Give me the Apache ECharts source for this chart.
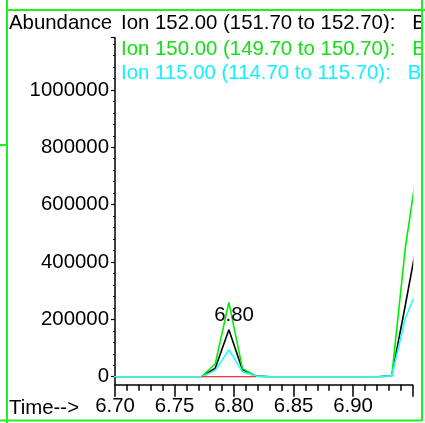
<!DOCTYPE html>
<html>
<head>
<meta charset="utf-8">
<script src="https://cdn.jsdelivr.net/npm/echarts@6/dist/echarts.min.js"></script>
<style>
  html, body { margin: 0; padding: 0; background: #fff; }
  #chart { width: 425px; height: 423px; }
</style>
</head>
<body>
<div id="chart"></div>
<script>
// scan times (min)
var times = [6.6930, 6.7044, 6.7158, 6.7273, 6.7387, 6.7501, 6.7615, 6.7729, 6.7843, 6.7957, 6.8071, 6.8185,
  6.8299, 6.8414, 6.8528, 6.8642, 6.8756, 6.8870, 6.8984, 6.9098, 6.9212, 6.9326, 6.9440, 6.9554]
// abundance per ion
var ion152 = [0, 0, 0, 0, 0, 0, 0, 0, 30000, 164000, 24000, 2000, 0, 0, 0, 0, 0, 0, 0, 0, 0, 3000, 250000, 505000]
var ion150 = [0, 0, 0, 0, 0, 0, 0, 0, 45000, 259000, 28000, 2000, 0, 0, 0, 0, 0, 0, 0, 0, 0, 3000, 450000, 770000]
var ion115 = [0, 0, 0, 0, 0, 0, 0, 0, 22000, 94000, 17000, 2000, 0, 0, 0, 0, 0, 0, 0, 0, 0, 3000, 204000, 318000]
// integration baseline of the 6.80 peak
var baseTimes = [6.7729, 6.8185]
var baseVals = [0, 0]
var ionLabels = [
  'Ion 152.00 (151.70 to 152.70):   B',
  'Ion 150.00 (149.70 to 150.70):   B',
  'Ion 115.00 (114.70 to 115.70):   B'
]
var peakTime = 6.80
var peakLabel = '6.80'

var FONT = "'Liberation Sans', Arial, sans-serif"
var FS = 20.4
var GREEN = '#22ee22'

function pairs(ts, vals) {
  var out = []
  for (var i = 0; i < ts.length; i++) {
    out.push([ts[i], vals[i]])
  }
  return out
}

function lineSeries(name, ts, vals, color, extra) {
  var s = {
    name: name,
    type: 'line',
    showSymbol: false,
    symbol: 'none',
    smooth: false,
    lineStyle: { width: 1.6, color: color },
    itemStyle: { color: color },
    data: pairs(ts, vals),
  }
  if (extra) {
    for (var k in extra) s[k] = extra[k]
  }
  return s
}

var chart = echarts.init(document.getElementById('chart'))
var option = {
  animation: false,
  backgroundColor: '#fff',
  grid: {
    left: 115,
    right: 12.5,
    top: 37.7,
    bottom: 46.3,
    containLabel: false,
  },
  xAxis: {
    type: 'value',
    min: 6.70,
    max: 6.95,
    interval: 0.05,
    offset: 8,
    axisLine: { show: true, onZero: false, lineStyle: { color: '#000', width: 1.5 } },
    axisTick: { show: true, length: 12, lineStyle: { color: '#000', width: 1.5 } },
    minorTick: { show: true, splitNumber: 5, length: 6, lineStyle: { color: '#000', width: 1.5 } },
    splitLine: { show: false },
    axisLabel: {
      margin: 12,
      color: '#000',
      fontSize: FS,
      fontFamily: FONT,
      showMaxLabel: false,
      formatter: function (v) { return v.toFixed(2) },
    },
  },
  yAxis: {
    type: 'value',
    min: 0,
    max: 1182000,
    interval: 200000,
    axisLine: { show: true, lineStyle: { color: '#000', width: 1.5 } },
    axisTick: { show: true, length: 4, lineStyle: { color: '#000', width: 1.2 } },
    minorTick: { show: true, splitNumber: 5, length: 2, lineStyle: { color: '#000', width: 1 } },
    splitLine: { show: false },
    axisLabel: {
      margin: 6,
      color: '#000',
      fontSize: FS,
      fontFamily: FONT,
      showMaxLabel: false,
      formatter: function (v) { return String(v) },
    },
  },
  series: [
    lineSeries('Ion 152.00', times, ion152, '#000000', {
      markPoint: {
        symbol: 'circle',
        symbolSize: 0,
        silent: true,
        data: [{ coord: [peakTime, 213500] }],
        label: {
          show: true,
          position: 'inside',
          formatter: peakLabel,
          color: '#000',
          fontSize: FS,
          fontFamily: FONT,
        },
      },
    }),
    lineSeries('Ion 150.00', times, ion150, '#00ee00'),
    lineSeries('Ion 115.00', times, ion115, '#22ffff'),
    lineSeries('baseline', baseTimes, baseVals, '#ff3030'),
  ],
  graphic: {
    elements: [
      // y axis stub below zero
      { type: 'line', shape: { x1: 115, y1: 376, x2: 115, y2: 385 }, style: { stroke: '#000', lineWidth: 1.5 } },
      { type: 'text', left: 9, top: 13, style: { text: 'Abundance', fill: '#000', font: FS + 'px ' + FONT } },
      { type: 'text', left: 121, top: 13, style: { text: ionLabels[0], fill: '#000', font: FS + 'px ' + FONT } },
      { type: 'text', left: 121, top: 39, style: { text: ionLabels[1], fill: '#11e011', font: FS + 'px ' + FONT } },
      { type: 'text', left: 121, top: 63.5, style: { text: ionLabels[2], fill: '#11f0ff', font: FS + 'px ' + FONT } },
      { type: 'text', left: 9, top: 398, style: { text: 'Time-->', fill: '#000', font: FS + 'px ' + FONT } },
      // trim traces exactly at the plot's right edge
      { type: 'rect', z: 50, shape: { x: 413.3, y: 90, width: 8, height: 285 }, style: { fill: '#fff' } },
      // cover overflow on the right
      { type: 'rect', z: 50, shape: { x: 423, y: 11, width: 5, height: 420 }, style: { fill: '#fff' } },
      // green frame
      { type: 'line', z: 60, shape: { x1: 7, y1: 0, x2: 7, y2: 423 }, style: { stroke: GREEN, lineWidth: 2 } },
      { type: 'line', z: 60, shape: { x1: 7, y1: 10, x2: 425, y2: 10 }, style: { stroke: GREEN, lineWidth: 2 } },
      { type: 'line', z: 60, shape: { x1: 422, y1: 0, x2: 422, y2: 421 }, style: { stroke: GREEN, lineWidth: 2 } },
      { type: 'line', z: 60, shape: { x1: 0, y1: 420.5, x2: 422, y2: 420.5 }, style: { stroke: GREEN, lineWidth: 2 } },
      { type: 'line', z: 60, shape: { x1: 0, y1: 145, x2: 7, y2: 145 }, style: { stroke: GREEN, lineWidth: 2 } },
    ],
  },
}
chart.setOption(option)
</script>
</body>
</html>
